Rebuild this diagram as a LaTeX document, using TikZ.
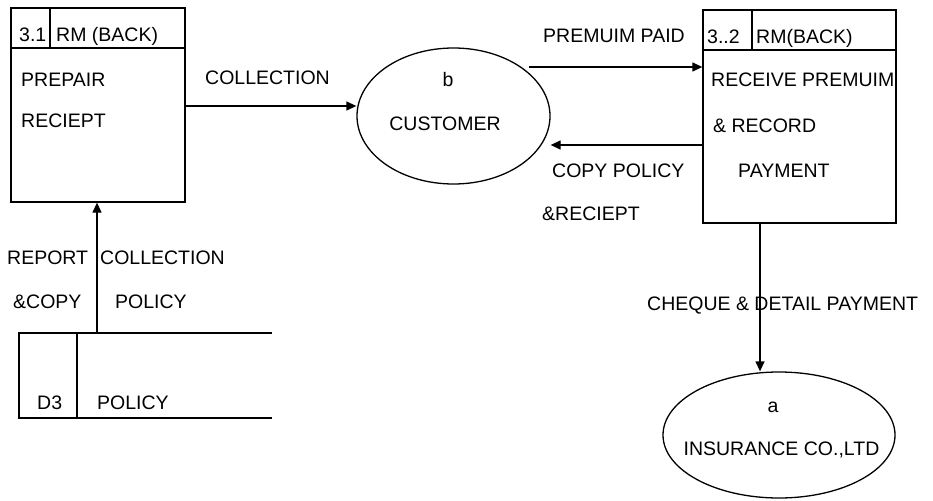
\documentclass[tikz,border=0pt]{standalone}
\usepackage{fontspec}
\setmainfont{Liberation Sans}
\usetikzlibrary{arrows.meta,shapes.geometric,positioning,calc}

\begin{document}
\begin{tikzpicture}[x=1pt, y=-1pt, font=\fontsize{19.5}{23}\selectfont,
    proc/.style = {shape=rectangle, draw, line width=1.3pt, inner sep=0pt},
    extent/.style = {shape=ellipse, draw, line width=1.3pt, inner sep=0pt},
    rule/.style = {line width=1.3pt},
    flow/.style = {-{Triangle[length=10pt,width=9pt]}, line width=1.3pt},
    lbl/.style = {anchor=west, inner sep=0pt, text height=14pt, text depth=0pt}]

  \useasboundingbox (0,0) rectangle (933,500);

  % process 3.1
  \node [proc, minimum width=174pt, minimum height=194pt] (p31) at (98,105) {};
  \draw [rule] (p31.west |- 0,48) -- (p31.east |- 0,48);
  \draw [rule] (p31.north -| 50,0) -- (50,48);
  \node [lbl] (p31id) at (19,35) {3.1};
  \node [lbl] (p31who) at (56,35) {RM (BACK)};
  \node [lbl] (p31task) at (21,80) {PREPAIR};
  \node [lbl] (p31taskb) at (21,121) {RECIEPT};

  % process 3..2
  \node [proc, minimum width=193pt, minimum height=213pt] (p32) at (799.5,116.5) {};
  \draw [rule] (p32.west |- 0,50) -- (p32.east |- 0,50);
  \draw [rule] (p32.north -| 752,0) -- (752,50);
  \node [lbl] (p32id) at (707,37) {3..2};
  \node [lbl] (p32who) at (756,37) {RM(BACK)};
  \node [lbl] (p32task) at (711,80) {RECEIVE PREMUIM};
  \node [lbl] (p32taskb) at (713,125) {\& RECORD};
  \node [lbl] (p32taskc) at (738,170) {PAYMENT};

  % external entities
  \node [extent, minimum width=193pt, minimum height=136pt] (cust) at (453.5,116) {};
  \node (custid) at (448,80) {b};
  \node (custname) at (445,124) {CUSTOMER};

  \node [extent, minimum width=232pt, minimum height=126pt] (ins) at (779,435) {};
  \node (insid) at (773,407) {a};
  \node (insname) at (781.5,450) {INSURANCE CO.,LTD};

  % data store D3
  \draw [rule] (272,333) -- (19,333) -- (19,418) -- (272,418);
  \draw [rule] (77,333) -- (77,418);
  \node [lbl] (d3id) at (37,402) {D3};
  \node [lbl] (d3name) at (97,402) {POLICY};
  \coordinate (d3) at (97,333);

  % flows
  \draw [flow] (p31.east |- 0,106) -- (cust.west |- 0,106);
  \node [lbl] (fcoll) at (205,78) {COLLECTION};

  \coordinate (paid) at (529,67);
  \draw [flow] (paid) -- (paid -| p32.west);
  \node [lbl] (fpaid) at (543,36) {PREMUIM PAID};

  \draw [flow] (p32.west |- 0,145) -- (cust.east |- 0,145);
  \node [lbl] (fcopy) at (552,170) {COPY POLICY};
  \node [lbl] (fcopyb) at (542,213) {\&RECIEPT};

  \draw [flow] (p32.south -| 760,0) -- (ins.north -| 760,0);
  \node [lbl] (fchq) at (647,303) {CHEQUE \& DETAIL PAYMENT};

  \draw [flow] (d3) -- (d3 |- p31.south);
  \node [lbl] (frep) at (7,257) {REPORT};
  \node [lbl] (frepb) at (13,301) {\&COPY};
  \node [lbl] (fcol) at (100,257) {COLLECTION};
  \node [lbl] (fcolb) at (115,301) {POLICY};
\end{tikzpicture}
\end{document}
